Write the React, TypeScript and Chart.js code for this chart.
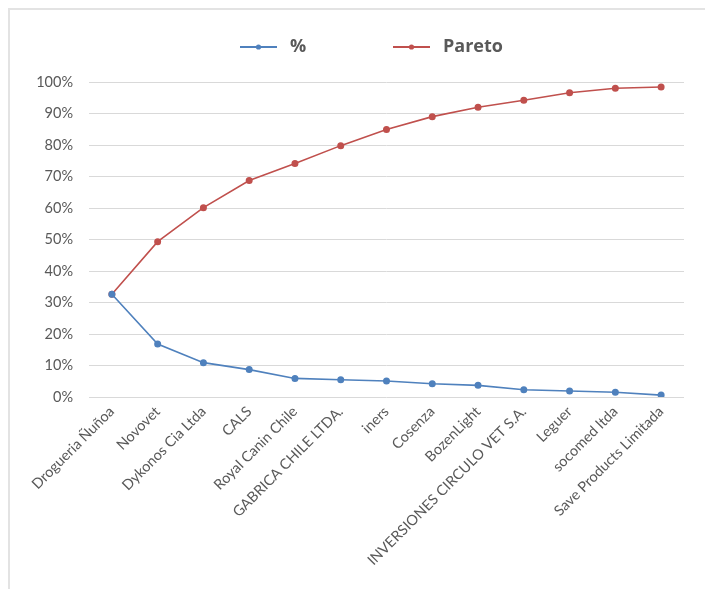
import React, { useEffect, useRef } from "react";
import { Chart, registerables } from "chart.js";

Chart.register(...registerables);

const categories = [
  "Drogueria Ñuñoa",
  "Novovet",
  "Dykonos Cia Ltda",
  "CALS",
  "Royal Canin Chile",
  "GABRICA CHILE LTDA.",
  "iners",
  "Cosenza",
  "BozenLight",
  "INVERSIONES CIRCULO VET S.A.",
  "Leguer",
  "socomed ltda",
  "Save Products Limitada",
];
const percentValues = [32.6, 16.8, 10.9, 8.7, 5.9, 5.5, 5.1, 4.2, 3.7, 2.3, 1.9, 1.5, 0.6];
const paretoValues = [32.6, 49.3, 60.1, 68.7, 74.1, 79.8, 84.9, 89.0, 92.0, 94.2, 96.6, 98.0, 98.4];
const seriesNames = ["%", "Pareto"];

const BLUE = "#4F81BD";
const RED = "#C0504D";
const TEXT = "#595959";
const GRID = "#D9D9D9";
const FONT = "Lato, 'Liberation Sans', sans-serif";
const LEGEND_FONT = "'Open Sans', Lato, sans-serif";

const legendPlugin = {
  id: "excelLegend",
  afterDraw(chart: any) {
    const ctx = chart.ctx;
    const items = [
      { x: 230, color: BLUE, label: chart.data.datasets[0].label },
      { x: 383, color: RED, label: chart.data.datasets[1].label },
    ];
    const y = 37;
    ctx.save();
    items.forEach((it) => {
      ctx.strokeStyle = it.color;
      ctx.lineWidth = 2;
      ctx.beginPath();
      ctx.moveTo(it.x, y);
      ctx.lineTo(it.x + 37, y);
      ctx.stroke();
      ctx.fillStyle = it.color;
      ctx.beginPath();
      ctx.arc(it.x + 18.5, y, 2.6, 0, Math.PI * 2);
      ctx.fill();
      ctx.fillStyle = TEXT;
      ctx.font = "bold 18px " + LEGEND_FONT;
      ctx.textBaseline = "middle";
      ctx.textAlign = "left";
      ctx.fillText(it.label, it.x + 50, y);
    });
    ctx.restore();
  },
};

export default function App() {
  const ref = useRef<HTMLCanvasElement | null>(null);
  useEffect(() => {
    document.body.style.margin = "8px 0 0 8px";
    document.documentElement.style.overflow = "hidden";
    document.body.style.overflow = "hidden";
    const chart = new Chart(ref.current as HTMLCanvasElement, {
      type: "line",
      data: {
        labels: categories,
        datasets: [
          {
            label: seriesNames[0],
            data: percentValues,
            borderColor: BLUE,
            backgroundColor: BLUE,
            borderWidth: 1.6,
            pointRadius: 2.7,
            pointHoverRadius: 2.7,
            tension: 0,
          },
          {
            label: seriesNames[1],
            data: paretoValues,
            borderColor: RED,
            backgroundColor: RED,
            borderWidth: 1.6,
            pointRadius: 2.7,
            pointHoverRadius: 2.7,
            tension: 0,
          },
        ],
      },
      options: {
        animation: false,
        responsive: false,
        maintainAspectRatio: false,
        layout: { padding: { top: 72, right: 21, left: 0, bottom: 0 } },
        plugins: {
          legend: { display: false },
          tooltip: { enabled: false },
        },
        scales: {
          x: {
            offset: true,
            grid: { display: false, drawTicks: false },
            border: { display: false },
            ticks: {
              color: TEXT,
              font: { family: FONT, size: 14.5 },
              minRotation: 45,
              maxRotation: 45,
              autoSkip: false,
              padding: 6,
            },
            afterFit(scale: any) {
              scale.height = 192;
            },
          },
          y: {
            min: 0,
            max: 100,
            grid: { color: GRID, lineWidth: 1, drawTicks: false },
            border: { display: false },
            ticks: {
              stepSize: 10,
              color: TEXT,
              font: { family: FONT, size: 14.5 },
              padding: 16,
              callback: (v: any) => v + "%",
            },
            afterFit(scale: any) {
              scale.width = 79;
            },
          },
        },
      },
      plugins: [legendPlugin],
    });
    return () => chart.destroy();
  }, []);

  return (
    <div
      style={{
        width: 697,
        height: 581,
        boxSizing: "border-box",
        borderTop: "2px solid #E3E3E3",
        borderLeft: "2px solid #E3E3E3",
        background: "#fff",
      }}
    >
      <canvas ref={ref} width={695} height={579} style={{ display: "block", width: 695, height: 579 }} />
    </div>
  );
}
